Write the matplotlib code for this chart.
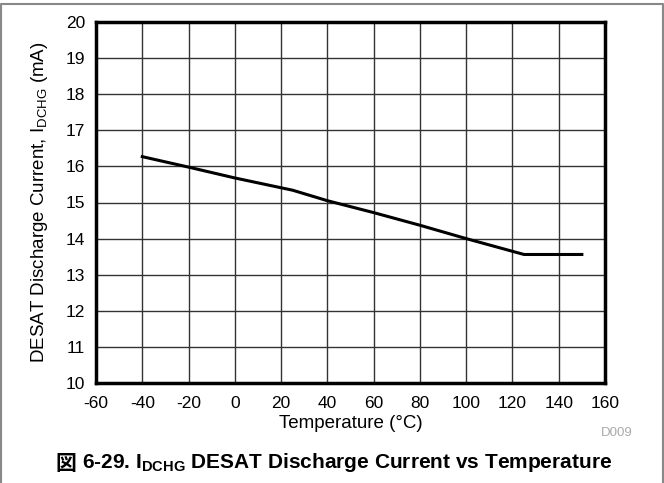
import matplotlib.pyplot as plt
from matplotlib.lines import Line2D

plt.rcParams['font.family'] = ['Liberation Sans', 'Noto Sans CJK JP', 'DejaVu Sans']
plt.rcParams['axes.unicode_minus'] = False

# data
temp = [-40, -20, 0, 25, 40, 60, 80, 100, 125, 150]
current = [16.27, 15.98, 15.68, 15.34, 15.05, 14.72, 14.37, 14.0, 13.56, 13.56]

x_ticks = list(range(-60, 161, 20))
y_ticks = list(range(10, 21, 1))

fig = plt.figure(figsize=(6.64, 4.83), dpi=100)
ax = fig.add_axes([96/664, 1 - 383/483, (605-96)/664, (383-22)/483])

ax.plot(temp, current, color='black', lw=2.2, solid_joinstyle='miter')

ax.set_xlim(-60, 160)
ax.set_ylim(10, 20)
ax.set_xticks(x_ticks)
ax.set_yticks(y_ticks)
ax.grid(True, color='#333333', lw=1)
ax.set_axisbelow(True)
for s in ax.spines.values():
    s.set_linewidth(2.5)
    s.set_color('black')
ax.tick_params(axis='both', length=0, labelsize=12.5)
ax.tick_params(axis='x', pad=9)
ax.tick_params(axis='y', pad=8)

ax.set_xlabel('Temperature (°C)', fontsize=13.5)
ax.set_ylabel('DESAT Discharge Current, I$_{\\mathregular{DCHG}}$ (mA)', fontsize=13.5)
ax.xaxis.set_label_coords(0.5, (383 - 423) / 361)
ax.xaxis.label.set_va('center')
ax.yaxis.set_label_coords((40 - 96) / 509, 0.5)
ax.yaxis.label.set_va('center')

fig.text(633/664, 1 - 433/483, 'D009', fontsize=9.5, color='#aaaaaa', ha='right', va='center')

# caption: kanji drawn separately so the CJK font is used for it
cap = fig.text(347/664, 1 - 462/483, '6-29. I$_{\\mathregular{DCHG}}$ DESAT Discharge Current vs Temperature',
               fontsize=15, fontweight='bold', ha='center', va='center')
ax.annotate('図 ', xy=(0, 0), xycoords=cap, ha='right', va='bottom',
            fontsize=15, fontweight='bold', family=['Noto Sans CJK JP'],
            annotation_clip=False)

# gray frame: left, top and right edges only
fx = [1/664, 1/664, 663/664, 663/664]
fy = [0, 1 - 4/483, 1 - 4/483, 0]
fig.add_artist(Line2D(fx, fy, transform=fig.transFigure, color='#888888', lw=1.5))

fig.savefig('out.png', dpi=100)
